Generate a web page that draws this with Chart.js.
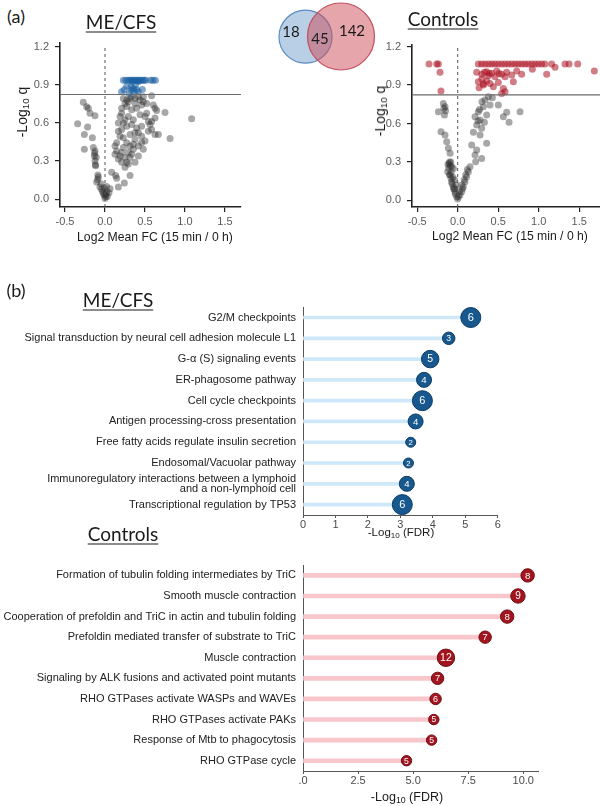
<!DOCTYPE html>
<html lang="en">
<head>
<meta charset="UTF-8">
<title>ME/CFS vs Controls</title>
<script src="https://cdn.jsdelivr.net/npm/chart.js@4.4.1/dist/chart.umd.min.js"></script>
<style>
  body { margin:0; background:#fff; }
  #page { position:relative; width:600px; height:806px; overflow:hidden; font-family:"Liberation Sans", Arial, sans-serif; color:#1a1a1a; }
  canvas { position:absolute; }
  .txt { position:absolute; white-space:nowrap; line-height:1; transform:translate(-50%,-50%); }
  .title { font-family:Lato, "Open Sans", sans-serif; font-size:19px; text-decoration:underline; text-decoration-thickness:1.4px; text-underline-offset:3px; }
  .panel { font-family:Lato, sans-serif; font-size:18px; }
  .venn { font-family:Lato, sans-serif; font-size:15px; }
  .axt { font-size:12.2px; }
  .yt { font-size:14px; transform:translate(-50%,-50%) rotate(-90deg); }
  sub { font-size:70%; vertical-align:-0.25em; line-height:0; }
</style>
</head>
<body>
<div id="page">
  <canvas id="volMe" width="250" height="200" style="left:0;top:30px"></canvas>
  <canvas id="venn" width="110" height="75" style="left:270px;top:0"></canvas>
  <canvas id="volCtl" width="250" height="200" style="left:350px;top:30px"></canvas>
  <canvas id="popMe" width="510" height="245" style="left:0;top:295px"></canvas>
  <canvas id="popCtl" width="560" height="253" style="left:0;top:553px"></canvas>

  <div class="txt panel" style="left:16px;top:16px">(a)</div>
  <div class="txt title" style="left:121px;top:21px">ME/CFS</div>
  <div class="txt title" style="left:443px;top:18px">Controls</div>
  <div class="txt venn" style="left:291px;top:31px">18</div>
  <div class="txt venn" style="left:320px;top:38px">45</div>
  <div class="txt venn" style="left:352px;top:30px">142</div>
  <div class="txt yt" style="left:22px;top:112px">-Log<sub>10</sub> q</div>
  <div class="txt yt" style="left:380px;top:111px">-Log<sub>10</sub> q</div>
  <div class="txt axt" style="left:155px;top:237px">Log2 Mean FC (15 min / 0 h)</div>
  <div class="txt axt" style="left:510px;top:236px">Log2 Mean FC (15 min / 0 h)</div>

  <div class="txt panel" style="left:16px;top:290px">(b)</div>
  <div class="txt title" style="left:118px;top:299px">ME/CFS</div>
  <div class="txt title" style="left:123px;top:533px">Controls</div>
  <div class="txt" style="left:401px;top:533px;font-size:11.5px">-Log<sub>10</sub> (FDR)</div>
  <div class="txt" style="left:407px;top:797px;font-size:12.5px">-Log<sub>10</sub> (FDR)</div>
</div>
<script>
// ---- data ----
const volXTicks = [-0.5, 0, 0.5, 1.0, 1.5];
const volYTicks = [0, 0.3, 0.6, 0.9, 1.2];
const qThreshold = 0.823;   // -log10(0.15)

// ME/CFS volcano, not significant
const meGray = [
  [-0.271,0.761],[-0.229,0.727],[-0.208,0.715],[-0.187,0.676],[-0.125,0.655],[-0.342,0.593],[-0.217,0.568],
  [-0.258,0.508],[-0.158,0.482],[-0.258,0.392],[-0.146,0.405],[-0.125,0.379],[-0.133,0.340],[-0.125,0.302],
  [-0.117,0.263],[-0.083,0.173],[-0.092,0.155],[-0.104,0.134],[-0.063,0.095],[-0.042,0.077],[-0.008,0.031],
  [0.0,0.005],[0.008,0.020],[-0.021,0.044],[0.021,0.057],[0.063,0.082],[0.083,0.211],[0.133,0.186],
  [0.146,0.165],[0.167,0.095],[0.242,0.126],[0.313,0.186],[-0.03,0.06],[0.01,0.04],[0.03,0.02],[-0.01,0.09],
  [0.02,0.10],[0.05,0.05],[-0.05,0.12],[-0.09,0.19],[-0.11,0.33],[-0.13,0.36],[-0.12,0.27],
  [0.583,0.813],[0.604,0.740],[0.625,0.715],[0.646,0.697],[0.75,0.681],[1.083,0.632],[0.625,0.637],
  [0.563,0.586],[0.583,0.547],[0.625,0.508],[0.667,0.508],[0.813,0.477],[0.458,0.444],[0.375,0.470],
  [0.354,0.431],[0.479,0.392],[0.417,0.340],[0.271,0.289],[0.25,0.250],[0.167,0.315],[0.146,0.379],
  [0.125,0.418],[0.188,0.495],[0.208,0.547],[0.229,0.598],[0.188,0.650],[0.208,0.715],[0.25,0.753],
  [0.271,0.779],[0.313,0.792],[0.375,0.792],[0.438,0.779],[0.479,0.766],[0.521,0.753],[0.396,0.715],
  [0.438,0.663],[0.5,0.650],[0.542,0.611],[0.521,0.676],[0.292,0.650],[0.333,0.586],[0.396,0.560],
  [0.417,0.521],[0.458,0.495],[0.542,0.534],[0.313,0.508],[0.271,0.444],[0.229,0.405],[0.208,0.366],
  [0.188,0.340],[0.292,0.366],[0.354,0.392],[0.313,0.328],[0.375,0.289],[0.333,0.353],[0.229,0.792],
  [0.333,0.805],[0.417,0.805],[0.292,0.766],[0.375,0.753],[0.458,0.740],[0.271,0.728],[0.333,0.702],
  [0.479,0.805],[0.208,0.676],[0.25,0.624],[0.271,0.573],[0.167,0.534],[0.146,0.444],[0.229,0.482],
  [0.375,0.521],[0.458,0.573],[0.5,0.457],[0.417,0.418],[0.25,0.328],[0.292,0.276],[0.208,0.289],
  [0.125,0.353],[0.354,0.624],[0.583,0.611],[0.167,0.598],[0.313,0.418]
];
// ME/CFS volcano, q < 0.15
const meSig = [
  [0.23,0.934],[0.26,0.934],[0.29,0.934],[0.31,0.934],[0.33,0.934],[0.35,0.934],[0.37,0.934],[0.39,0.934],
  [0.41,0.934],[0.43,0.934],[0.45,0.934],[0.47,0.934],[0.49,0.934],[0.51,0.934],[0.57,0.934],[0.60,0.934],
  [0.63,0.934],[0.34,0.925],[0.42,0.925],[0.271,0.887],[0.325,0.882],[0.396,0.862],[0.367,0.851],
  [0.417,0.844],[0.208,0.844],[0.467,0.862],[0.333,0.857],[0.30,0.831],[0.35,0.87],[0.38,0.90],[0.24,0.86]
];
// Controls volcano, not significant
const ctlGray = [
  [-0.177,0.757],[-0.156,0.731],[-0.238,0.692],[-0.164,0.666],[-0.206,0.536],[-0.156,0.510],[-0.136,0.458],
  [-0.115,0.406],[-0.094,0.367],[-0.107,0.288],[-0.074,0.262],[-0.123,0.223],[-0.094,0.197],[-0.074,0.145],
  [-0.053,0.106],[-0.033,0.067],[-0.012,0.028],[0.0,0.010],[-0.041,0.088],[-0.082,0.171],[-0.053,0.249],
  [-0.10,0.30],[-0.09,0.27],[-0.11,0.25],[-0.08,0.22],[-0.06,0.18],[-0.07,0.13],[-0.05,0.09],[-0.03,0.05],
  [-0.02,0.12],[0.01,0.03],[0.02,0.07],[-0.10,0.20],[-0.12,0.28],[-0.085,0.30],[-0.04,0.16],[0.05,0.12],
  [0.08,0.16],[0.10,0.20],[0.12,0.24],[0.06,0.09],[-0.17,0.72],[-0.15,0.70],
  [0.029,0.041],[0.05,0.067],[0.07,0.106],[0.091,0.145],[0.111,0.184],[0.132,0.223],[0.152,0.262],
  [0.173,0.432],[0.214,0.354],[0.235,0.393],[0.296,0.327],[0.222,0.301],[0.358,0.445],[0.235,0.588],
  [0.214,0.653],[0.276,0.627],[0.255,0.692],[0.317,0.731],[0.338,0.783],[0.379,0.809],[0.428,0.801],
  [0.399,0.744],[0.502,0.744],[0.564,0.653],[0.605,0.687],[0.634,0.609],[0.770,0.692],[0.296,0.562],
  [0.358,0.666],[0.276,0.510],[0.194,0.531],[0.329,0.609],[0.30,0.77],[0.27,0.71],[0.25,0.62]
];
// Controls volcano, q < 0.15
const ctlSig = [
  [-0.354,1.065],[-0.259,1.065],[-0.238,1.065],[-0.218,1.0],[-0.206,0.854],
  [0.255,1.065],[0.297,1.065],[0.338,1.065],[0.38,1.065],[0.42,1.065],[0.46,1.065],[0.502,1.065],
  [0.543,1.065],[0.585,1.065],[0.626,1.065],[0.667,1.065],[0.708,1.065],[0.749,1.065],[0.79,1.065],
  [0.831,1.065],[0.872,1.065],[0.914,1.065],[0.955,1.065],[0.996,1.065],[1.037,1.065],[1.078,1.065],
  [1.16,1.065],[1.325,1.065],[1.375,1.065],[1.482,1.065],[1.202,1.04],[1.099,0.984],[0.922,1.023],
  [1.687,1.01],[0.235,1.0],[0.297,0.984],[0.358,1.005],[0.42,0.992],[0.482,1.01],[0.543,0.984],
  [0.605,1.0],[0.667,0.978],[0.729,1.01],[0.79,0.984],[0.461,0.965],[0.379,0.973],[0.585,0.965],
  [0.33,1.0],[0.39,0.99],[0.51,0.99],[0.255,0.926],[0.317,0.90],[0.399,0.913],[0.44,0.887],[0.502,0.921],
  [0.564,0.874],[0.687,0.926],[0.264,0.88],[0.358,0.932],[0.543,0.835],[0.585,0.848],[0.32,0.91],[0.30,0.95]
];

const vennCounts = [18, 45, 142];   // ME/CFS only, both, Controls only (printed as text)

const meTerms = [
  'G2/M checkpoints',
  'Signal transduction by neural cell adhesion molecule L1',
  'G-\u03b1 (S) signaling events',
  'ER-phagosome pathway',
  'Cell cycle checkpoints',
  'Antigen processing-cross presentation',
  'Free fatty acids regulate insulin secretion',
  'Endosomal/Vacuolar pathway',
  ['Immunoregulatory interactions between a lymphoid', 'and a non-lymphoid cell'],
  'Transcriptional regulation by TP53'
];
const meFdr = [5.17, 4.49, 3.92, 3.73, 3.68, 3.47, 3.32, 3.25, 3.20, 3.06];
const meCounts = [6, 3, 5, 4, 6, 4, 2, 2, 4, 6];
const meFdrTicks = [0, 1, 2, 3, 4, 5, 6];

const ctlTerms = [
  'Formation of tubulin folding intermediates by TriC',
  'Smooth muscle contraction',
  'Cooperation of prefoldin and TriC in actin and tubulin folding',
  'Prefoldin mediated transfer of substrate to TriC',
  'Muscle contraction',
  'Signaling by ALK fusions and activated point mutants',
  'RHO GTPases activate WASPs and WAVEs',
  'RHO GTPases activate PAKs',
  'Response of Mtb to phagocytosis',
  'RHO GTPase cycle'
];
const ctlFdr = [10.2, 9.76, 9.27, 8.27, 6.49, 6.11, 6.02, 5.94, 5.84, 4.70];
const ctlCounts = [8, 9, 8, 7, 12, 7, 6, 5, 5, 5];
const ctlFdrTicks = [0, 2.5, 5, 7.5, 10];
const ctlFdrLabels = ['.0', '2.5', '5.0', '7.5', '10.0'];

// ---- drawing ----
Chart.defaults.font.family = '"Liberation Sans", Arial, sans-serif';
const pts = arr => arr.map(p => ({x: p[0], y: p[1]}));
const fixTicks = list => s => { s.ticks = list.map(v => ({value: v})); };

function volcano(id, gray, sig, sigColor, xr, yr, yWidth, pad) {
  new Chart(document.getElementById(id), {
    type: 'scatter',
    data: {
      datasets: [
        {type: 'line', data: [{x: xr[0], y: qThreshold}, {x: xr[1], y: qThreshold}], borderColor: '#6a6a6a',
         borderWidth: 1.2, pointRadius: 0, order: 0},
        {type: 'line', data: [{x: 0, y: yr[0]}, {x: 0, y: yr[1] - 0.02}], borderColor: '#555',
         borderWidth: 1, borderDash: [3, 3], pointRadius: 0, order: 0},
        {data: pts(sig), backgroundColor: sigColor, borderWidth: 0, pointRadius: 3.5, order: 1},
        {data: pts(gray), backgroundColor: 'rgba(45,45,45,0.42)', borderWidth: 0, pointRadius: 3.5, order: 2}
      ]
    },
    options: {
      responsive: false, animation: false, devicePixelRatio: 1,
      layout: {padding: pad, autoPadding: false},
      plugins: {legend: {display: false}, tooltip: {enabled: false}},
      scales: {
        x: {
          type: 'linear', min: xr[0], max: xr[1],
          afterBuildTicks: fixTicks(volXTicks),
          afterFit: s => { s.height = 23; },
          grid: {drawOnChartArea: false, tickLength: 5, color: '#222', lineWidth: 1.2},
          border: {color: '#222', width: 1.6},
          ticks: {color: '#5a5a5a', font: {size: 11}, padding: 3, callback: v => v.toFixed(1)}
        },
        y: {
          type: 'linear', min: yr[0], max: yr[1],
          afterBuildTicks: fixTicks(volYTicks),
          afterFit: s => { s.width = yWidth; },
          grid: {drawOnChartArea: false, tickLength: 5, color: '#222', lineWidth: 1.2},
          border: {color: '#222', width: 1.6},
          ticks: {color: '#5a5a5a', font: {size: 11}, padding: 6, callback: v => v.toFixed(1)}
        }
      }
    }
  });
}

volcano('volMe', meGray, meSig, 'rgba(25,95,160,0.55)', [-0.5625, 1.7], [-0.062, 1.231], 60,
        {top: 10, right: 9, left: 0, bottom: 0});
volcano('volCtl', ctlGray, ctlSig, 'rgba(172,18,34,0.55)', [-0.564, 1.757], [-0.052, 1.213], 62,
        {top: 15, right: 0, left: 0, bottom: 0});

// venn: two translucent circles
new Chart(document.getElementById('venn'), {
  type: 'bubble',
  data: {
    datasets: [
      {data: [{x: 71, y: 38.5, r: 33.5}], backgroundColor: 'rgba(205,73,87,0.5)', borderColor: '#c24f5d',
       borderWidth: 1.2, clip: false},
      {data: [{x: 35.5, y: 38.3, r: 26.5}], backgroundColor: 'rgba(113,159,205,0.5)', borderColor: '#5b8cc0',
       borderWidth: 1.2, clip: false}
    ]
  },
  options: {
    responsive: false, animation: false, devicePixelRatio: 1,
    layout: {padding: 0, autoPadding: false},
    plugins: {legend: {display: false}, tooltip: {enabled: false}},
    scales: {x: {display: false, min: 0, max: 110}, y: {display: false, min: 0, max: 75}}
  }
});

// white gene counts inside the lollipop heads
function countPlugin(counts, fontFor) {
  return {
    id: 'counts',
    afterDatasetsDraw(chart) {
      const ctx = chart.ctx;
      ctx.save();
      ctx.fillStyle = '#fff';
      ctx.textAlign = 'center';
      ctx.textBaseline = 'middle';
      chart.getDatasetMeta(0).data.forEach((el, i) => {
        ctx.font = fontFor(el.options.radius) + 'px "Liberation Sans", Arial, sans-serif';
        ctx.fillText(String(counts[i]), el.x, el.y + 0.5);
      });
      ctx.restore();
    }
  };
}

function lollipop(id, terms, vals, counts, o) {
  new Chart(document.getElementById(id), {
    type: 'bar',
    data: {
      labels: terms,
      datasets: [
        {type: 'scatter', data: vals.map((v, i) => ({x: v, y: i})), pointRadius: counts.map(o.radius),
         backgroundColor: o.fill, borderColor: o.edge, borderWidth: 1, clip: false, order: 0},
        {data: vals, backgroundColor: o.stem, barThickness: o.stemWidth, order: 1}
      ]
    },
    options: {
      indexAxis: 'y',
      responsive: false, animation: false, devicePixelRatio: 1,
      layout: {padding: o.pad, autoPadding: false},
      plugins: {legend: {display: false}, tooltip: {enabled: false}},
      scales: {
        x: {
          type: 'linear', min: 0, max: o.max,
          afterBuildTicks: fixTicks(o.ticks),
          afterFit: s => { s.height = o.xHeight; },
          grid: {drawOnChartArea: false, tickLength: 3, color: '#555', lineWidth: 1},
          border: {color: '#555', width: 1},
          ticks: {color: '#4a4a4a', font: {size: 11}, padding: 0, callback: o.tickLabel}
        },
        y: {
          afterFit: s => { s.width = 303; },
          grid: {drawOnChartArea: false, drawTicks: false},
          border: {color: '#555', width: 1},
          ticks: {color: '#222', font: {size: 11, lineHeight: 0.93}, padding: 7, autoSkip: false}
        }
      }
    },
    plugins: [countPlugin(counts, o.font)]
  });
}

lollipop('popMe', meTerms, meFdr, meCounts, {
  radius: n => 2.5 + 1.25 * n, font: r => Math.min(11, 4 + r * 0.75),
  fill: '#17588f', edge: '#0c3b63', stem: '#cde8f8', stemWidth: 3,
  max: 6, ticks: meFdrTicks, tickLabel: v => String(v),
  pad: {top: 10, right: 12.3, left: 0, bottom: 0}, xHeight: 25
});
lollipop('popCtl', ctlTerms, ctlFdr, ctlCounts, {
  radius: n => 2.7 + 0.5 * n, font: r => Math.min(10.5, 5 + r * 0.7),
  fill: '#a3151e', edge: '#6d0c12', stem: '#f9c6cc', stemWidth: 4,
  max: 10.67, ticks: ctlFdrTicks, tickLabel: (v, i) => ctlFdrLabels[i],
  pad: {top: 11, right: 22, left: 0, bottom: 0}, xHeight: 35
});
</script>
</body>
</html>
